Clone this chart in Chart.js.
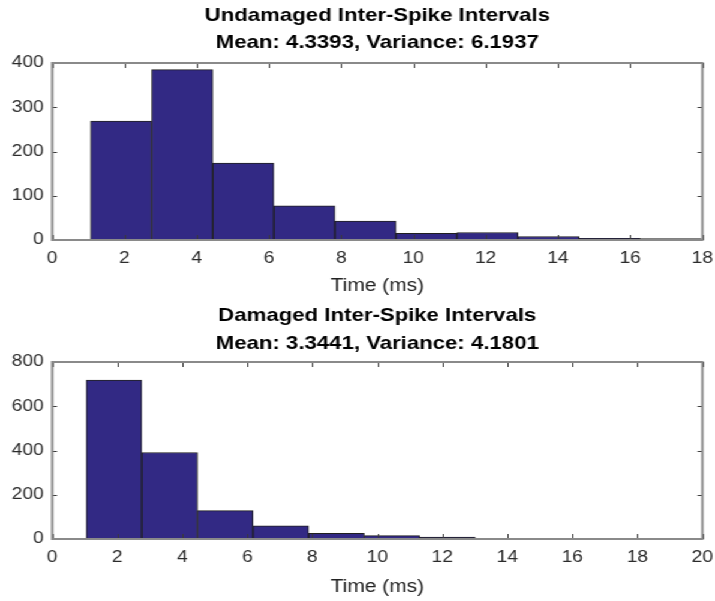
<!DOCTYPE html>
<html>
<head>
<meta charset="utf-8">
<script src="https://cdn.jsdelivr.net/npm/chart.js@4.4.0/dist/chart.umd.min.js"></script>
<style>
  body { margin: 0; background: #fff; overflow: hidden; }
  /* figure is drawn narrow and stretched sideways, like the exported MATLAB figure */
  #wrap { position: absolute; left: 0; top: 0; width: 596px; height: 601px; transform: scaleX(1.1997); transform-origin: 0 0; }
  canvas { position: absolute; left: 0; }
</style>
</head>
<body>
<div id="wrap">
  <canvas id="undamaged" width="596" height="300" style="top:0"></canvas>
  <canvas id="damaged" width="596" height="301" style="top:300px"></canvas>
</div>
<script>
// histogram bin centres (ms) and counts
const undamagedCenters = [1.91, 3.60, 5.29, 6.98, 8.67, 10.36, 12.05, 13.74, 15.43, 17.12];
const undamagedCounts  = [269, 385, 174, 77, 43, 15, 17, 8, 4, 3];
const damagedCenters   = [1.90, 3.61, 5.32, 7.03, 8.74, 10.45, 12.16, 13.87, 15.58, 17.29];
const damagedCounts    = [718, 391, 128, 59, 26, 15, 9, 3, 0, 2];

const undamagedXTicks = [0, 2, 4, 6, 8, 10, 12, 14, 16, 18];
const undamagedYTicks = [0, 100, 200, 300, 400];
const damagedXTicks   = [0, 2, 4, 6, 8, 10, 12, 14, 16, 18, 20];
const damagedYTicks   = [0, 200, 400, 600, 800];

const undamagedTitle = ['Undamaged Inter-Spike Intervals', 'Mean: 4.3393, Variance: 6.1937'];
const damagedTitle   = ['Damaged Inter-Spike Intervals', 'Mean: 3.3441, Variance: 4.1801'];

const FONT = '"Liberation Sans", Arial, sans-serif';

// box around the axes, inward tick marks on all four sides, and the two-line title
const matlabAxes = {
  id: 'matlabAxes',
  afterDatasetsDraw(chart, args, opts) {
    const { ctx, chartArea: a, scales: { x, y } } = chart;
    ctx.save();
    ctx.strokeStyle = '#3a3a3a';
    ctx.lineWidth = 1;
    ctx.beginPath();
    x.ticks.forEach(t => {
      const px = Math.round(x.getPixelForValue(t.value)) + 0.5;
      ctx.moveTo(px, a.bottom); ctx.lineTo(px, a.bottom - 5);
      ctx.moveTo(px, a.top); ctx.lineTo(px, a.top + 5);
    });
    y.ticks.forEach(t => {
      const py = Math.round(y.getPixelForValue(t.value)) + 0.5;
      ctx.moveTo(a.left, py); ctx.lineTo(a.left + 4, py);
      ctx.moveTo(a.right, py); ctx.lineTo(a.right - 4, py);
    });
    ctx.stroke();

    ctx.strokeStyle = '#8a8a8a';
    ctx.lineWidth = 2;
    ctx.strokeRect(a.left, a.top, a.right - a.left, a.bottom - a.top);

    ctx.fillStyle = '#000';
    ctx.font = 'bold 18.5px ' + FONT;
    ctx.textAlign = 'center';
    ctx.textBaseline = 'alphabetic';
    const cx = (a.left + a.right) / 2;
    opts.lines.forEach((s, i) => ctx.fillText(s, cx, opts.baselines[i]));
    ctx.restore();
  }
};

function histogram(id, centers, counts, xTicks, yTicks, title, baselines, plotTop, plotBottom) {
  const canvas = document.getElementById(id);
  const h = canvas.height;
  return new Chart(canvas, {
    type: 'bar',
    data: {
      datasets: [{
        data: centers.map((c, i) => ({ x: c, y: counts[i] })),
        backgroundColor: 'rgb(50,41,132)',
        borderColor: '#202020',
        borderWidth: 1,
        barPercentage: 1,
        categoryPercentage: 1
      }]
    },
    options: {
      responsive: false,
      animation: false,
      events: [],
      layout: { padding: { left: 0, right: 10.5, top: plotTop, bottom: 0 } },
      plugins: {
        legend: { display: false },
        tooltip: { enabled: false },
        matlabAxes: { lines: title, baselines: baselines }
      },
      scales: {
        x: {
          type: 'linear',
          offset: false,
          min: xTicks[0],
          max: xTicks[xTicks.length - 1],
          afterBuildTicks: s => { s.ticks = xTicks.map(v => ({ value: v })); },
          afterFit: s => { s.height = h - plotBottom; s.paddingLeft = 0; s.paddingRight = 0; },
          grid: { display: false, drawTicks: false, offset: false },
          border: { display: false },
          ticks: { color: '#2b2b2b', padding: 9, maxRotation: 0, autoSkip: false, font: { family: FONT, size: 16 } },
          title: { display: true, text: 'Time (ms)', color: '#222', padding: { top: 0, bottom: 3 }, font: { family: FONT, size: 17.5 } }
        },
        y: {
          min: yTicks[0],
          max: yTicks[yTicks.length - 1],
          afterBuildTicks: s => { s.ticks = yTicks.map(v => ({ value: v })); },
          afterFit: s => { s.width = 43.5; s.paddingTop = 0; s.paddingBottom = 0; },
          grid: { display: false, drawTicks: false },
          border: { display: false },
          ticks: { color: '#2b2b2b', padding: 7, font: { family: FONT, size: 16 } }
        }
      }
    },
    plugins: [matlabAxes]
  });
}

histogram('undamaged', undamagedCenters, undamagedCounts, undamagedXTicks, undamagedYTicks,
  undamagedTitle, [21, 48], 63, 240);
histogram('damaged', damagedCenters, damagedCounts, damagedXTicks, damagedYTicks,
  damagedTitle, [21, 49], 62, 239);
</script>
</body>
</html>
